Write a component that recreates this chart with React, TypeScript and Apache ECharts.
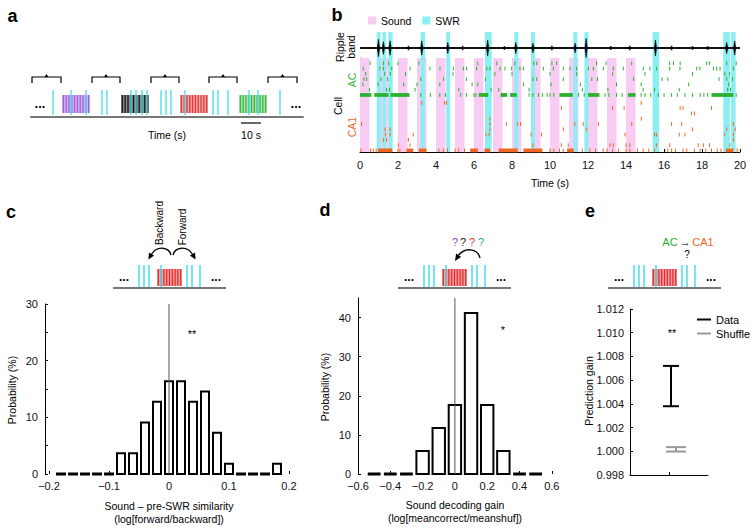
import React, { useEffect, useRef } from "react";
import * as echarts from "echarts";

const FONT = '"Liberation Sans", Arial, Helvetica, sans-serif';

// ===== Panel a: schematic session timeline (seconds) =====
const aSwrTimes = [11, 20, 27.5, 35.5, 38, 50, 52.5, 55.5, 58, 65, 67.5, 70, 77, 91, 93.5, 98.5, 109, 113.5, 124.5];
const aSoundBlocks = [[15.5, 29.5], [45, 59], [74.5, 88.5], [104, 118]];
const aBrackets = [[0.5, 15], [30.5, 44.5], [60, 74], [89, 103], [118.5, 133]];
const aScaleBar = [[105, 115]];
const aTimeMax = 136;

// ===== Panel b: example 20 s of recording =====
const bSoundOnsets = [0, 1, 2, 3, 4, 5, 6, 7, 8, 9, 10, 11, 12, 13, 14];
const bSoundDuration = 0.5;
const bSwrEvents = [
  [0.88, 1.09], [1.18, 1.37], [1.49, 1.72], [3.19, 3.42], [4.54, 4.74], [6.58, 6.93], [8.12, 8.33],
  [9.0, 9.21], [11.23, 11.44], [11.81, 12.02], [15.4, 15.74], [19.12, 19.47], [19.53, 19.77],
];
const bRippleEvents = [
  [0.97, 0.55], [1.23, 0.4], [1.58, 0.45], [3.25, 0.45], [4.62, 0.35], [6.72, 0.5], [8.2, 0.35],
  [9.1, 0.3], [11.32, 0.3], [11.9, 0.6], [15.55, 0.5], [19.3, 0.35], [19.72, 0.45],
  [2.55, 0.14], [5.4, 0.14], [7.6, 0.12], [10.1, 0.14], [13.2, 0.12], [14.2, 0.14], [16.4, 0.14], [17.5, 0.12], [18.3, 0.12],
];
const acSparse = [
  [0.53, 1.23, 1.5, 2.0, 3.1, 6.2, 7.2, 8.15, 9.15, 9.3, 10.1, 10.35, 12.45, 12.95, 14.3, 16.3, 16.5, 16.85, 18.25, 18.4, 19.3, 19.8],
  [0.17, 1.05, 1.23, 1.67, 2.63, 3.68, 4.21, 4.91, 5.44, 5.61, 6.14, 6.67, 6.84, 7.37, 7.63, 7.98, 8.42, 8.6, 9.65, 10.18, 10.7, 11.05, 11.4, 12.02, 12.28, 12.81, 13.33, 13.86, 14.91, 15.26, 15.61, 16.3, 16.84, 17.72, 17.89, 18.6, 18.77, 18.95, 19.65],
  [0.3, 1.3, 1.6, 2.4, 4.9, 7.1, 8.0, 10.0, 11.4, 13.3, 15.0, 17.5, 19.2, 19.45],
  [0.2, 0.35, 1.1, 1.45, 3.2, 4.4, 5.6, 6.6, 9.1, 9.3, 10.7, 12.2, 12.5, 14.4, 15.9, 16.2, 18.9, 19.3, 19.6],
  [0.15, 0.95, 2.3, 3.0, 4.2, 5.9, 6.2, 8.6, 10.05, 11.6, 13.5, 14.8, 17.3, 19.4],
  [0.5, 1.4, 1.55, 2.9, 5.2, 6.9, 7.3, 8.9, 11.7, 13.05, 14.9, 15.5, 16.8, 19.35, 19.5],
];
const acHotSpikes = [3.2, 3.7, 4.2, 4.5, 5.3, 5.6, 6.0, 6.1, 8.9, 9.1, 9.4, 9.6, 9.85, 10.0, 10.2, 11.5, 11.8, 12.9, 13.1, 13.5, 13.8, 14.8, 15.0, 15.3, 15.7, 16.0, 16.4, 16.7, 17.1, 17.5, 17.9, 18.1, 18.3, 19.8];
const acHotBursts = [[0, 0.6], [0.75, 1.5], [1.6, 2.6], [6.25, 6.75], [7.4, 7.75], [7.9, 8.25], [10.5, 11.2], [12.0, 12.6], [14.1, 14.5], [18.5, 19.65]];
const ca1Sparse = [
  [3.25, 4.45, 4.55, 14.8],
  [10.6, 13.3, 13.9, 16.85, 17.0, 18.5],
  [17.45, 17.6],
  [6.84, 14.8],
  [0.08, 6.84, 7.7, 8.3, 8.45, 11.3, 11.75, 12.55, 14.3, 16.4, 16.93, 19.65],
  [1.32, 1.58, 6.84, 10.7, 11.93, 17.5, 19.3, 19.74],
  [1.35, 1.58, 2.8, 6.63, 6.8, 9.0, 9.56, 13.95, 15.5, 15.6, 16.8, 17.1, 19.2, 19.65],
  [1.23, 1.4, 2.55, 19.65],
  [2.02, 2.63, 9.1, 10.6, 10.96, 13.16, 13.33, 14.0, 14.2, 15.6, 16.3, 17.8, 18.07, 18.4, 19.47],
];
const ca1HotSpikes = [0.05, 0.55, 0.7, 0.85, 2.0, 2.1, 4.15, 4.4, 4.6, 5.0, 5.2, 5.5, 10.0, 10.2, 10.5, 10.7, 11.7, 12.1, 12.4, 12.8, 13.0, 13.3, 13.6, 14.0, 14.2, 14.6, 14.9, 15.2, 15.5, 16.2, 16.4, 16.6, 17.0, 17.2, 17.6, 17.9, 18.2, 18.5, 18.8, 19.0, 19.85];
const ca1HotBursts = [[0.95, 1.7], [2.45, 2.8], [3.1, 3.5], [5.8, 6.2], [6.55, 6.85], [7.3, 8.3], [8.6, 9.6], [10.9, 11.25], [19.25, 19.65]];

// ===== Panel c =====
const cBins = [-0.18, -0.16, -0.14, -0.12, -0.1, -0.08, -0.06, -0.04, -0.02, 0, 0.02, 0.04, 0.06, 0.08, 0.1, 0.12, 0.14, 0.16, 0.18];
const cProb = [0, 0, 0, 0, 0, 3.64, 3.64, 9.09, 12.73, 16.36, 16.36, 12.73, 14.55, 7.27, 1.82, 0, 0, 0, 1.82];
const cSig = "**";

// ===== Panel d =====
const dBins = [-0.5, -0.4, -0.3, -0.2, -0.1, 0, 0.1, 0.2, 0.3, 0.4, 0.5];
const dProb = [0, 0, 0, 5.88, 11.76, 17.65, 41.18, 17.65, 5.88, 0, 0];
const dSig = "*";

// ===== Panel e =====
const eData = [1.0038, 1.0072];
const eShuffle = [0.99998, 1.00035];
const eSig = "**";

// ===== styles =====
const PINK = "#f9ccf3";
const CYAN_BAND = "#8aeff2";
const CYAN_LINE = "#45e1eb";
const GREEN = "#2bb32f";
const ORANGE = "#f26522";
const aBlockStyles = [
  { base: "#d4b2f3", stripe: "#9c62d6" },
  { base: "#8a8a8a", stripe: "#1a1a1a" },
  { base: "#f5a3a3", stripe: "#e33b3b" },
  { base: "#aee3ae", stripe: "#3db54a" },
];

const fmtSigned = (v: number, digits: number) => {
  const r = Math.round(v * 1000) / 1000;
  if (Math.abs(r) < 1e-9) return "0";
  const s = Math.abs(r).toFixed(digits);
  return r < 0 ? "\u2212" + s : s;
};

const txt = (x: number, y: number, text: string, o: any = {}) => ({
  type: "text",
  x,
  y,
  rotation: o.rot || 0,
  silent: true,
  style: {
    text,
    font: o.font || `10.5px ${FONT}`,
    fill: o.color || "#000",
    textAlign: o.align || "center",
    textVerticalAlign: "middle",
    lineHeight: o.lh || 12,
  },
});

const schematic = (ox: number) => {
  const base = 288;
  const els: any[] = [];
  els.push({ type: "line", silent: true, shape: { x1: ox, y1: base, x2: ox + 113, y2: base }, style: { stroke: "#777", lineWidth: 2 } });
  els.push({ type: "rect", silent: true, shape: { x: ox + 44, y: base - 19, width: 25, height: 17 }, style: { fill: "#f59c9c" } });
  for (let k = 0; k < 9; k++) {
    const x = ox + 45.3 + k * 2.8;
    els.push({ type: "line", silent: true, shape: { x1: x, y1: base - 19, x2: x, y2: base - 2 }, style: { stroke: "#e0282d", lineWidth: 1.2 } });
  }
  for (const dx of [26, 31, 36, 48, 74, 79, 87]) {
    els.push({ type: "line", silent: true, shape: { x1: ox + dx, y1: base - 23, x2: ox + dx, y2: base - 1 }, style: { stroke: CYAN_LINE, lineWidth: 1.5 } });
  }
  els.push(txt(ox + 11, base - 11, "...", { font: `bold 12px ${FONT}` }));
  els.push(txt(ox + 103, base - 11, "...", { font: `bold 12px ${FONT}` }));
  return els;
};

const histItem = (halfPx: number, dashHalf: number) => (params: any, api: any) => {
  const c = api.coord([api.value(0), 0]);
  const v = api.value(1);
  if (v <= 0) {
    return { type: "line", shape: { x1: c[0] - dashHalf, y1: c[1], x2: c[0] + dashHalf, y2: c[1] }, style: { stroke: "#000", lineWidth: 3 } };
  }
  const top = api.coord([api.value(0), v]);
  return {
    type: "rect",
    shape: { x: c[0] - halfPx, y: top[1], width: 2 * halfPx, height: c[1] - top[1] },
    style: { fill: "#fff", stroke: "#000", lineWidth: 2 },
  };
};

const bandItem = (color: string) => (params: any, api: any) => {
  const cs = params.coordSys;
  const x0 = api.coord([api.value(0), 0])[0];
  const x1 = api.coord([api.value(1), 0])[0];
  return { type: "rect", shape: { x: x0, y: cs.y, width: x1 - x0, height: cs.height }, style: { fill: color } };
};

const spikeItem = (color: string) => (params: any, api: any) => {
  const p = api.coord([api.value(0), api.value(1)]);
  return { type: "line", shape: { x1: p[0], y1: p[1] - 1.9, x2: p[0], y2: p[1] + 1.9 }, style: { stroke: color, lineWidth: 1 } };
};

const burstItem = (color: string) => (params: any, api: any) => {
  const p0 = api.coord([api.value(0), api.value(2)]);
  const p1 = api.coord([api.value(1), api.value(2)]);
  return { type: "rect", shape: { x: p0[0], y: p0[1] - 1.9, width: p1[0] - p0[0], height: 3.8 }, style: { fill: color } };
};

const errItem = (offset: number, half: number, color: string, lw: number) => (params: any, api: any) => {
  const lo = api.coord([api.value(0), api.value(1)]);
  const hi = api.coord([api.value(0), api.value(2)]);
  const x = lo[0] + offset;
  const st = { stroke: color, lineWidth: lw };
  return {
    type: "group",
    children: [
      { type: "line", shape: { x1: x, y1: lo[1], x2: x, y2: hi[1] }, style: st },
      { type: "line", shape: { x1: x - half, y1: lo[1], x2: x + half, y2: lo[1] }, style: st },
      { type: "line", shape: { x1: x - half, y1: hi[1], x2: x + half, y2: hi[1] }, style: st },
    ],
  };
};

const hiddenAxis = (gridIndex: number, min: number, max: number, extra: any = {}) => ({
  type: "value",
  gridIndex,
  min,
  max,
  show: false,
  splitLine: { show: false },
  ...extra,
});

const labelStyle = { fontSize: 11, color: "#111", fontFamily: FONT };

function buildOption() {
  const graphicEls: any[] = [
    txt(12.5, 16, "a", { font: `bold 18px ${FONT}` }),
    txt(337, 15, "b", { font: `bold 18px ${FONT}` }),
    txt(11, 212, "c", { font: `bold 18px ${FONT}` }),
    txt(325, 210, "d", { font: `bold 18px ${FONT}` }),
    txt(590, 211, "e", { font: `bold 18px ${FONT}` }),
    // panel a
    txt(40, 103, "...", { font: `bold 13px ${FONT}` }),
    txt(296, 103, "...", { font: `bold 13px ${FONT}` }),
    txt(167, 135, "Time (s)"),
    txt(251, 135, "10 s"),
    // panel b
    txt(345, 47, "Ripple\nband", { rot: Math.PI / 2, lh: 11 }),
    txt(352, 80, "AC", { rot: Math.PI / 2, color: GREEN }),
    txt(352, 127, "CA1", { rot: Math.PI / 2, color: ORANGE }),
    txt(338, 106, "Cell", { rot: Math.PI / 2 }),
    txt(550, 183, "Time (s)"),
    // panel c
    ...schematic(113),
    txt(159, 223, "Backward", { rot: Math.PI / 2, font: `10px ${FONT}` }),
    txt(182, 227, "Forward", { rot: Math.PI / 2, font: `10px ${FONT}` }),
    { type: "bezierCurve", silent: true, shape: { x1: 171, y1: 255, cpx1: 169, cpy1: 247, cpx2: 157, cpy2: 245, x2: 151, y2: 255 }, style: { stroke: "#000", lineWidth: 1.3, fill: "none" } },
    { type: "polygon", silent: true, shape: { points: [[148.5, 259.5], [154.1, 255.6], [148.9, 252.6]] }, style: { fill: "#000" } },
    { type: "bezierCurve", silent: true, shape: { x1: 173, y1: 255, cpx1: 175, cpy1: 247, cpx2: 187, cpy2: 245, x2: 193, y2: 255 }, style: { stroke: "#000", lineWidth: 1.3, fill: "none" } },
    { type: "polygon", silent: true, shape: { points: [[195.5, 259.5], [189.9, 255.6], [195.1, 252.6]] }, style: { fill: "#000" } },
    txt(192, 334, cSig, { font: `11px ${FONT}`, color: "#000" }),
    txt(12, 390, "Probability (%)", { rot: Math.PI / 2 }),
    txt(169, 506, "Sound \u2013 pre-SWR similarity"),
    txt(169, 519, "(log[forward/backward])"),
    // panel d
    ...schematic(398),
    txt(455, 242, "?", { color: "#8e44c0", font: `11px ${FONT}` }),
    txt(463, 242, "?", { color: "#222", font: `11px ${FONT}` }),
    txt(472, 242, "?", { color: "#e5322d", font: `11px ${FONT}` }),
    txt(481, 242, "?", { color: "#2aa876", font: `11px ${FONT}` }),
    { type: "bezierCurve", silent: true, shape: { x1: 480, y1: 258, cpx1: 478, cpy1: 249, cpx2: 465, cpy2: 246, x2: 458, y2: 256 }, style: { stroke: "#000", lineWidth: 1.3, fill: "none" } },
    { type: "polygon", silent: true, shape: { points: [[455, 261], [461.1, 256.9], [456.1, 253.5]] }, style: { fill: "#000" } },
    txt(503, 330, dSig, { font: `11px ${FONT}`, color: "#000" }),
    txt(325, 387, "Probability (%)", { rot: Math.PI / 2 }),
    txt(455, 505, "Sound decoding gain"),
    txt(455, 518, "(log[meancorrect/meanshuf])"),
    // panel e
    ...schematic(608),
    txt(670, 242, "AC", { color: GREEN, font: `11px ${FONT}` }),
    txt(685, 242, "\u2192", { font: `11px ${FONT}` }),
    txt(703, 242, "CA1", { color: ORANGE, font: `11px ${FONT}` }),
    txt(687, 254, "?", { font: `10px ${FONT}` }),
    txt(672, 333, eSig, { font: `11px ${FONT}`, color: "#000" }),
    txt(589, 391, "Prediction gain", { rot: Math.PI / 2 }),
  ];

  const acSpikeData: number[][] = [];
  acSparse.forEach((ts, i) => ts.forEach((t) => acSpikeData.push([t, i + 1])));
  acHotSpikes.forEach((t) => acSpikeData.push([t, acSparse.length + 1]));
  const ca1SpikeData: number[][] = [];
  ca1Sparse.forEach((ts, j) => ts.forEach((t) => ca1SpikeData.push([t, 8.5 + j])));
  ca1HotSpikes.forEach((t) => ca1SpikeData.push([t, 8.5 + ca1Sparse.length]));

  return {
    animation: false,
    backgroundColor: "#fff",
    textStyle: { fontFamily: FONT, color: "#000" },
    grid: [
      { left: 31, top: 70, width: 272, height: 47 },
      { left: 360, top: 32, width: 380, height: 26 },
      { left: 360, top: 58, width: 380, height: 94 },
      { left: 49, top: 304, width: 240, height: 170 },
      { left: 358, top: 298, width: 193.8, height: 176 },
      { left: 630, top: 309, width: 78, height: 166 },
    ],
    xAxis: [
      {
        type: "value", gridIndex: 0, min: 0, max: aTimeMax,
        axisLine: { show: true, onZero: false, lineStyle: { color: "#777", width: 2 } },
        axisTick: { show: false }, axisLabel: { show: false }, splitLine: { show: false },
      },
      hiddenAxis(1, 0, 20),
      {
        type: "value", gridIndex: 2, min: 0, max: 20, interval: 2,
        axisLine: { show: true, onZero: false, lineStyle: { color: "#000", width: 1 } },
        axisTick: { show: true, inside: true, length: 3, lineStyle: { color: "#000" } },
        axisLabel: { ...labelStyle, margin: 7 },
        splitLine: { show: false },
      },
      {
        type: "value", gridIndex: 3, min: -0.2, max: 0.2, interval: 0.1,
        axisLine: { show: false, onZero: false },
        axisTick: { show: true, inside: true, length: 3, lineStyle: { color: "#000" } },
        axisLabel: { ...labelStyle, margin: 6, formatter: (v: number) => fmtSigned(v, 1) },
        splitLine: { show: false },
      },
      {
        type: "value", gridIndex: 4, min: -0.6, max: 0.6, interval: 0.2,
        axisLine: { show: false, onZero: false },
        axisTick: { show: true, inside: true, length: 3, lineStyle: { color: "#000" } },
        axisLabel: { ...labelStyle, margin: 6, formatter: (v: number) => fmtSigned(v, 1) },
        splitLine: { show: false },
      },
      {
        type: "category", gridIndex: 5, data: ["gain"],
        axisLine: { show: true, onZero: false, lineStyle: { color: "#000", width: 1 } },
        axisTick: { show: true, inside: true, length: 3, alignWithLabel: true, lineStyle: { color: "#000" } },
        axisLabel: { show: false },
      },
    ],
    yAxis: [
      hiddenAxis(0, 0, 1),
      hiddenAxis(1, -0.625, 1),
      {
        type: "value", gridIndex: 2, min: 0, max: 17.8, inverse: true,
        axisLine: { show: true, onZero: false, lineStyle: { color: "#777", width: 1 } },
        axisTick: { show: false }, axisLabel: { show: false }, splitLine: { show: false },
      },
      {
        type: "value", gridIndex: 3, min: 0, max: 30, interval: 5, offset: 4,
        axisLine: { show: true, onZero: false, lineStyle: { color: "#000", width: 1 } },
        axisTick: { show: true, inside: true, length: 3, lineStyle: { color: "#000" } },
        axisLabel: { ...labelStyle, margin: 7, formatter: (v: number) => (Math.round(v) % 10 === 0 ? String(Math.round(v)) : "") },
        splitLine: { show: false },
      },
      {
        type: "value", gridIndex: 4, min: 0, max: 45, interval: 10,
        axisLine: { show: true, onZero: false, lineStyle: { color: "#000", width: 1 } },
        axisTick: { show: true, inside: true, length: 3, lineStyle: { color: "#000" } },
        axisLabel: { ...labelStyle, margin: 7, showMaxLabel: false, formatter: (v: number) => (v > 40.5 ? "" : String(Math.round(v))) },
        splitLine: { show: false },
      },
      {
        type: "value", gridIndex: 5, min: 0.998, max: 1.012, interval: 0.002,
        axisLine: { show: true, onZero: false, lineStyle: { color: "#000", width: 1 } },
        axisTick: { show: true, inside: true, length: 3, lineStyle: { color: "#000" } },
        axisLabel: { ...labelStyle, margin: 6, formatter: (v: number) => v.toFixed(3) },
        splitLine: { show: false },
      },
    ],
    legend: [
      {
        data: ["Sound", "SWR"], left: 363, top: 10, icon: "rect", itemWidth: 8, itemHeight: 8, itemGap: 11,
        selectedMode: false, textStyle: { fontSize: 10.5, fontFamily: FONT, color: "#000", padding: [0, 0, 0, 0] },
      },
      {
        data: ["Data", "Shuffle"], left: 692, top: 309, orient: "vertical", icon: "rect", itemWidth: 14, itemHeight: 2,
        itemGap: 3, selectedMode: false, textStyle: { fontSize: 11, fontFamily: FONT, color: "#000" },
      },
    ],
    series: [
      // ---- panel a ----
      {
        type: "custom", xAxisIndex: 0, yAxisIndex: 0, silent: true, z: 2,
        data: aBrackets,
        renderItem: (params: any, api: any) => {
          const cs = params.coordSys;
          const bottom = cs.y + cs.height;
          const x0 = api.coord([api.value(0), 0])[0];
          const x1 = api.coord([api.value(1), 0])[0];
          const yT = bottom - 40;
          const xm = (x0 + x1) / 2;
          return {
            type: "group",
            children: [
              { type: "polyline", shape: { points: [[x0, yT + 6], [x0, yT], [x1, yT], [x1, yT + 6]] }, style: { stroke: "#000", lineWidth: 1.2, fill: "none" } },
              { type: "polygon", shape: { points: [[xm - 2, yT], [xm, yT - 3], [xm + 2, yT]] }, style: { fill: "#000" } },
            ],
          };
        },
      },
      {
        type: "custom", xAxisIndex: 0, yAxisIndex: 0, silent: true, z: 3,
        data: aSoundBlocks,
        renderItem: (params: any, api: any) => {
          const cs = params.coordSys;
          const bottom = cs.y + cs.height;
          const x0 = api.coord([api.value(0), 0])[0];
          const x1 = api.coord([api.value(1), 0])[0];
          const st = aBlockStyles[params.dataIndex % aBlockStyles.length];
          const children: any[] = [{ type: "rect", shape: { x: x0, y: bottom - 22, width: x1 - x0, height: 18 }, style: { fill: st.base } }];
          const n = 10;
          for (let k = 0; k < n; k++) {
            const x = x0 + ((k + 0.5) * (x1 - x0)) / n;
            children.push({ type: "line", shape: { x1: x, y1: bottom - 22, x2: x, y2: bottom - 4 }, style: { stroke: st.stripe, lineWidth: 1.3 } });
          }
          return { type: "group", children };
        },
      },
      {
        type: "custom", xAxisIndex: 0, yAxisIndex: 0, silent: true, z: 4,
        data: aSwrTimes.map((t) => [t, 0]),
        renderItem: (params: any, api: any) => {
          const cs = params.coordSys;
          const bottom = cs.y + cs.height;
          const x = api.coord([api.value(0), 0])[0];
          return { type: "line", shape: { x1: x, y1: bottom - 27, x2: x, y2: bottom - 2 }, style: { stroke: CYAN_LINE, lineWidth: 1.5, opacity: 0.9 } };
        },
      },
      {
        type: "custom", xAxisIndex: 0, yAxisIndex: 0, silent: true, z: 4,
        data: aScaleBar,
        renderItem: (params: any, api: any) => {
          const cs = params.coordSys;
          const bottom = cs.y + cs.height;
          const x0 = api.coord([api.value(0), 0])[0];
          const x1 = api.coord([api.value(1), 0])[0];
          return { type: "line", shape: { x1: x0, y1: bottom + 6, x2: x1, y2: bottom + 6 }, style: { stroke: "#000", lineWidth: 1.2 } };
        },
      },
      // ---- panel b ----
      {
        type: "custom", name: "SWR", xAxisIndex: 1, yAxisIndex: 1, silent: true, z: 1,
        itemStyle: { color: CYAN_BAND }, data: bSwrEvents, renderItem: bandItem(CYAN_BAND),
      },
      {
        type: "line", xAxisIndex: 1, yAxisIndex: 1, silent: true, z: 3, symbol: "none",
        data: [[0, 0], [20, 0]], lineStyle: { color: "#111", width: 2.2 },
      },
      {
        type: "custom", xAxisIndex: 1, yAxisIndex: 1, silent: true, z: 4,
        data: bRippleEvents,
        renderItem: (params: any, api: any) => {
          const t = api.value(0);
          const p = api.coord([t, 0]);
          const a = p[1] - api.coord([t, api.value(1)])[1];
          const w = Math.max(1, api.size([0.06, 0])[0]);
          return {
            type: "polygon",
            shape: { points: [[p[0] - w, p[1]], [p[0], p[1] - a], [p[0] + w, p[1]], [p[0], p[1] + a]] },
            style: { fill: "#000", stroke: "#000", lineWidth: 0.6 },
          };
        },
      },
      {
        type: "custom", name: "Sound", xAxisIndex: 2, yAxisIndex: 2, silent: true, z: 1,
        itemStyle: { color: PINK }, data: bSoundOnsets.map((t) => [t, t + bSoundDuration]), renderItem: bandItem(PINK),
      },
      {
        type: "custom", name: "SWR", xAxisIndex: 2, yAxisIndex: 2, silent: true, z: 1,
        itemStyle: { color: CYAN_BAND }, data: bSwrEvents, renderItem: bandItem(CYAN_BAND),
      },
      {
        type: "custom", xAxisIndex: 2, yAxisIndex: 2, silent: true, z: 4,
        data: acSpikeData, renderItem: spikeItem(GREEN),
      },
      {
        type: "custom", xAxisIndex: 2, yAxisIndex: 2, silent: true, z: 4,
        data: acHotBursts.map((b) => [b[0], b[1], acSparse.length + 1]), renderItem: burstItem(GREEN),
      },
      {
        type: "custom", xAxisIndex: 2, yAxisIndex: 2, silent: true, z: 4,
        data: ca1SpikeData, renderItem: spikeItem(ORANGE),
      },
      {
        type: "custom", xAxisIndex: 2, yAxisIndex: 2, silent: true, z: 4,
        data: ca1HotBursts.map((b) => [b[0], b[1], 8.5 + ca1Sparse.length]), renderItem: burstItem(ORANGE),
      },
      // ---- panel c ----
      {
        type: "custom", xAxisIndex: 3, yAxisIndex: 3, silent: true, z: 3,
        data: cBins.map((b, i) => [b, cProb[i]]), renderItem: histItem(4, 5),
      },
      {
        type: "line", xAxisIndex: 3, yAxisIndex: 3, silent: true, z: 5, symbol: "none",
        data: [[0, 0], [0, 30]], lineStyle: { color: "#555", width: 1 },
      },
      // ---- panel d ----
      {
        type: "custom", xAxisIndex: 4, yAxisIndex: 4, silent: true, z: 3,
        data: dBins.map((b, i) => [b, dProb[i]]), renderItem: histItem(6.2, 6.4),
      },
      {
        type: "line", xAxisIndex: 4, yAxisIndex: 4, silent: true, z: 5, symbol: "none",
        data: [[0, 0], [0, 45]], lineStyle: { color: "#555", width: 1 },
      },
      // ---- panel e ----
      {
        type: "custom", name: "Shuffle", xAxisIndex: 5, yAxisIndex: 5, silent: true, z: 3,
        itemStyle: { color: "#9a9a9a" }, data: [[0, eShuffle[0], eShuffle[1]]], renderItem: errItem(7, 10, "#9a9a9a", 2),
      },
      {
        type: "custom", name: "Data", xAxisIndex: 5, yAxisIndex: 5, silent: true, z: 4,
        itemStyle: { color: "#000" }, data: [[0, eData[0], eData[1]]], renderItem: errItem(2, 8, "#000", 2),
      },
    ],
    graphic: { elements: graphicEls },
  };
}

export default function App() {
  const ref = useRef<HTMLDivElement>(null);
  useEffect(() => {
    if (!ref.current) return;
    const chart = echarts.init(ref.current, null, { renderer: "svg" });
    chart.setOption(buildOption() as any);
    return () => chart.dispose();
  }, []);
  return (
    <div
      ref={ref}
      style={{ position: "fixed", left: 0, top: 0, width: 754, height: 531, background: "#fff" }}
    />
  );
}
